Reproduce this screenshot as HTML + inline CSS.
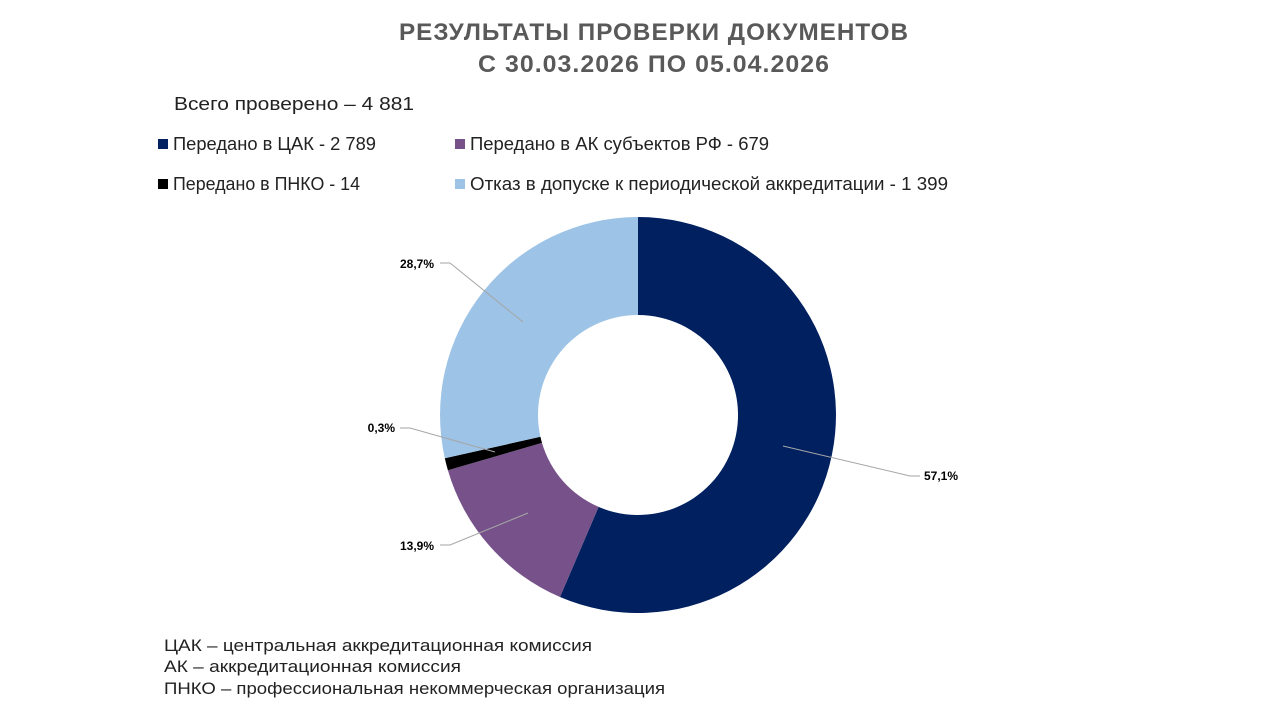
<!DOCTYPE html>
<html><head><meta charset="utf-8"><style>
body{margin:0;width:1280px;height:720px;background:#fff;overflow:hidden;font-family:"Liberation Sans",sans-serif;}
</style></head><body>
<svg width="1280" height="720" xmlns="http://www.w3.org/2000/svg" font-family="Liberation Sans, sans-serif">
<text x="654" y="40" text-anchor="middle" font-size="24" font-weight="bold" fill="#595959" letter-spacing="1" textLength="510" lengthAdjust="spacingAndGlyphs">РЕЗУЛЬТАТЫ ПРОВЕРКИ ДОКУМЕНТОВ</text>
<text x="654" y="72" text-anchor="middle" font-size="24" font-weight="bold" fill="#595959" letter-spacing="1" textLength="352" lengthAdjust="spacingAndGlyphs">С 30.03.2026  ПО 05.04.2026</text>
<g font-size="18" fill="#222">
<text x="174" y="110" textLength="240" lengthAdjust="spacingAndGlyphs">Всего проверено – 4 881</text>
<rect x="158" y="139" width="10" height="10" fill="#002060"/>
<text x="173" y="150" textLength="203" lengthAdjust="spacingAndGlyphs">Передано в ЦАК - 2 789</text>
<rect x="455" y="139" width="10" height="10" fill="#76518A"/>
<text x="470" y="150" textLength="299" lengthAdjust="spacingAndGlyphs">Передано в АК субъектов РФ - 679</text>
<rect x="158" y="179" width="10" height="10" fill="#000"/>
<text x="173" y="190" textLength="187" lengthAdjust="spacingAndGlyphs">Передано в ПНКО - 14</text>
<rect x="455" y="179" width="10" height="10" fill="#9DC3E6"/>
<text x="470" y="190" textLength="478" lengthAdjust="spacingAndGlyphs">Отказ в допуске к периодической аккредитации - 1 399</text>
</g>
<g transform="translate(638,415)">
<path d="M0,-198 A198,198 0 1 1 -78,182 L-39.4,91.9 A100,100 0 1 0 0,-100 Z" fill="#002060"/>
<path d="M-78,182 A198,198 0 0 1 -190.1,55.2 L-96,27.9 A100,100 0 0 0 -39.4,91.9 Z" fill="#76518A"/>
<path d="M-190.1,55.2 A198,198 0 0 1 -193.2,43.2 L-97.6,21.8 A100,100 0 0 0 -96,27.9 Z" fill="#000"/>
<path d="M-193.2,43.2 A198,198 0 0 1 0,-198 L0,-100 A100,100 0 0 0 -97.6,21.8 Z" fill="#9DC3E6"/>
</g>
<g stroke="#a6a6a6" stroke-width="1" fill="none">
<polyline points="440,263 450,263 523,322"/>
<polyline points="400,428 410,428 495,452"/>
<polyline points="440,545 450,545 528,513"/>
<polyline points="920,476 910,476 783,446"/>
</g>
<g font-size="12" font-weight="bold" fill="#000">
<text x="434" y="268" text-anchor="end">28,7%</text>
<text x="395" y="432" text-anchor="end">0,3%</text>
<text x="434" y="550" text-anchor="end">13,9%</text>
<text x="924" y="480">57,1%</text>
</g>
<g font-size="17" fill="#222">
<text x="164" y="651" textLength="428" lengthAdjust="spacingAndGlyphs">ЦАК – центральная аккредитационная комиссия</text>
<text x="164" y="672" textLength="297" lengthAdjust="spacingAndGlyphs">АК – аккредитационная комиссия</text>
<text x="164" y="694" textLength="501" lengthAdjust="spacingAndGlyphs">ПНКО – профессиональная некоммерческая организация</text>
</g>
</svg>
</body></html>
